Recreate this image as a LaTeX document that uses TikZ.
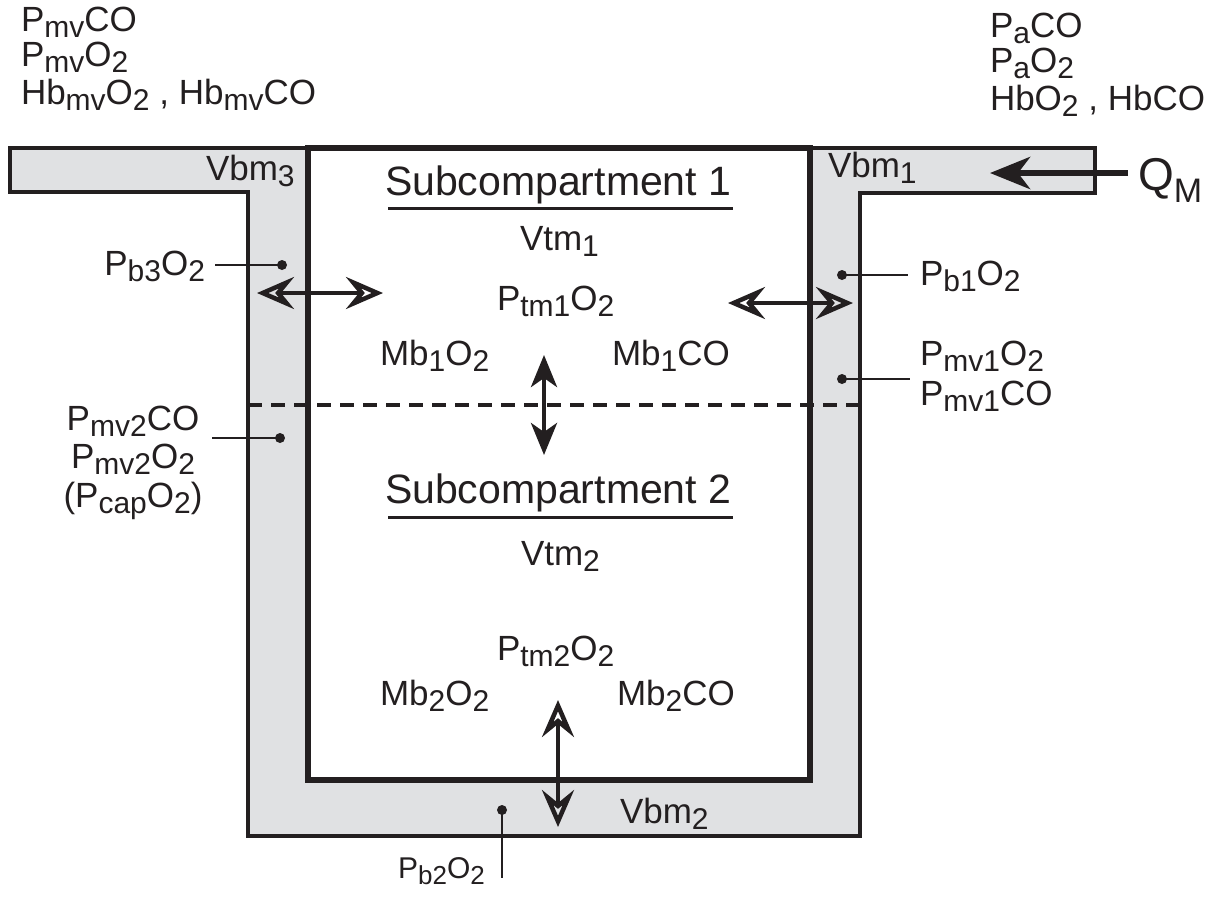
\documentclass[tikz,border=0pt]{standalone}
\usepackage{fontspec}
\setmainfont{Liberation Sans}
\usetikzlibrary{arrows.meta}
\definecolor{wallgray}{RGB}{224,225,227}
\definecolor{ink}{RGB}{35,31,32}
\newcommand{\lbl}{\fontsize{35}{36}\selectfont}
\newcommand{\dn}[1]{\raisebox{-6pt}{\fontsize{30}{30}\selectfont #1}}
\newcommand{\dnsm}[1]{\raisebox{-6pt}{\fontsize{26}{26}\selectfont #1}}
\begin{document}
\begin{tikzpicture}[x=1pt,y=-1pt,
  txt/.style={inner sep=0pt,outer sep=0pt,anchor=base west,text=ink,font=\lbl},
  title/.style={inner sep=0pt,outer sep=0pt,anchor=base west,text=ink,font=\fontsize{41}{43}\selectfont},
  outerwall/.style={draw=ink,fill=wallgray,line width=3.5pt,line join=miter},
  innerbox/.style={draw=ink,fill=white,line width=5.5pt},
  pointer/.style={draw=ink,line width=2.5pt},
  dotmark/.style={fill=ink,draw=none},
  shaft/.style={draw=ink,line width=4.5pt},
  openhead/.style={draw=ink,line width=4.5pt,{Stealth[length=37pt,width=32pt,inset=13pt,open]}-{Stealth[length=37pt,width=32pt,inset=13pt,open]}},
  filledhead/.style={draw=ink,line width=4.5pt,{Stealth[length=32pt,width=26pt,inset=9pt]}-{Stealth[length=32pt,width=26pt,inset=9pt]}},
  flowarrow/.style={draw=ink,line width=6.5pt,-{Stealth[length=40pt,width=32pt,inset=12pt]}},
  divider/.style={draw=ink,line width=4pt,dash pattern=on 14pt off 9pt},
  uline/.style={draw=ink,line width=3pt}]
\path[use as bounding box] (0,0) rectangle (1220,898);

% walls
\draw[outerwall] (10,148) -- (10,192) -- (248,192) -- (248,836) -- (860,836) -- (860,193) -- (1095,193) -- (1095,148) -- cycle;
\draw[innerbox] (308,148) rectangle (810,780);
\draw[divider] (248,405) -- (860,405);

% top labels
\node[txt] (tl1) at (21,31) {P\dn{mv}CO};
\node[txt] (tl2) at (21,66) {P\dn{mv}O\dn{2}};
\node[txt] (tl3) at (21,104) {Hb\dn{mv}O\dn{2} , Hb\dn{mv}CO};
\node[txt] (tr1) at (990,37) {P\dn{a}CO};
\node[txt] (tr2) at (990,72) {P\dn{a}O\dn{2}};
\node[txt] (tr3) at (990,110) {HbO\dn{2} , HbCO};

\node[txt] (vbm3) at (206,180) {Vbm\dn{3}};
\node[txt] (vbm1) at (828,177) {Vbm\dn{1}};
\node[txt] (vbm2) at (620,823) {Vbm\dn{2}};
\node[inner sep=0pt,anchor=base west,text=ink] (qm) at (1138,190) {\fontsize{46}{48}\selectfont Q\raisebox{-12pt}{\fontsize{34}{34}\selectfont M}};

% subcompartment 1
\node[title] (sub1) at (385,195) {Subcompartment 1};
\coordinate (u1a) at (388,208); \coordinate (u1b) at (733,208);
\draw[uline] (u1a) -- (u1b);
\node[txt] (vtm1) at (520,250) {Vtm\dn{1}};
\node[txt] (ptm1) at (497,310) {P\dn{tm1}O\dn{2}};
\node[txt] (mb1o2) at (380,365) {Mb\dn{1}O\dn{2}};
\node[txt] (mb1co) at (612,365) {Mb\dn{1}CO};

% subcompartment 2
\node[title] (sub2) at (385,503) {Subcompartment 2};
\coordinate (u2a) at (388,517); \coordinate (u2b) at (733,517);
\draw[uline] (u2a) -- (u2b);
\node[txt] (vtm2) at (521,565) {Vtm\dn{2}};
\node[txt] (ptm2) at (497,660) {P\dn{tm2}O\dn{2}};
\node[txt] (mb2o2) at (380,705) {Mb\dn{2}O\dn{2}};
\node[txt] (mb2co) at (617,705) {Mb\dn{2}CO};

% side labels
\node[txt,anchor=base east] (pb3) at (205,275) {P\dn{b3}O\dn{2}};
\node[txt] (pb1) at (920,285) {P\dn{b1}O\dn{2}};
\node[txt] (pmv1o2) at (920,365) {P\dn{mv1}O\dn{2}};
\node[txt] (pmv1co) at (920,405) {P\dn{mv1}CO};
\node[txt,anchor=base] (pmv2co) at (133,430) {P\dn{mv2}CO};
\node[txt,anchor=base] (pmv2o2) at (133,468) {P\dn{mv2}O\dn{2}};
\node[txt,anchor=base] (pcap) at (133,507) {(P\dn{cap}O\dn{2})};
\node[inner sep=0pt,anchor=base west,text=ink,font=\fontsize{30}{32}\selectfont] (pb2) at (398,878) {P\dnsm{b2}O\dnsm{2}};

% pointers
\coordinate (d3) at (282,265); \coordinate (e3) at (215,265);
\draw[pointer] (e3) -- (d3); \fill[dotmark] (d3) circle (5pt);
\coordinate (d1) at (842,275); \coordinate (e1) at (908,275);
\draw[pointer] (d1) -- (e1); \fill[dotmark] (d1) circle (5pt);
\coordinate (dm1) at (842,379); \coordinate (em1) at (910,379);
\draw[pointer] (dm1) -- (em1); \fill[dotmark] (dm1) circle (5pt);
\coordinate (dm2) at (280,438); \coordinate (em2) at (212,438);
\draw[pointer] (em2) -- (dm2); \fill[dotmark] (dm2) circle (5pt);
\coordinate (d2) at (502,810); \coordinate (e2) at (502,878);
\draw[pointer] (d2) -- (e2); \fill[dotmark] (d2) circle (5pt);

% exchange arrows
\coordinate (la) at (257,293); \coordinate (lb) at (383,293);
\draw[shaft,shorten <=22pt,shorten >=22pt] (la) -- (lb);
\draw[openhead] (la) -- (lb);
\coordinate (ra) at (728,303); \coordinate (rb) at (853,303);
\draw[shaft,shorten <=22pt,shorten >=22pt] (ra) -- (rb);
\draw[openhead] (ra) -- (rb);
\coordinate (ma) at (544,355); \coordinate (mb) at (544,455);
\draw[filledhead] (ma) -- (mb);
\coordinate (ba) at (558,700); \coordinate (bb) at (558,827);
\draw[shaft,shorten <=22pt,shorten >=22pt] (ba) -- (bb);
\draw[openhead] (ba) -- (bb);
\coordinate (qa) at (1128,173); \coordinate (qb) at (990,173);
\draw[flowarrow] (qa) -- (qb);
\end{tikzpicture}
\end{document}
